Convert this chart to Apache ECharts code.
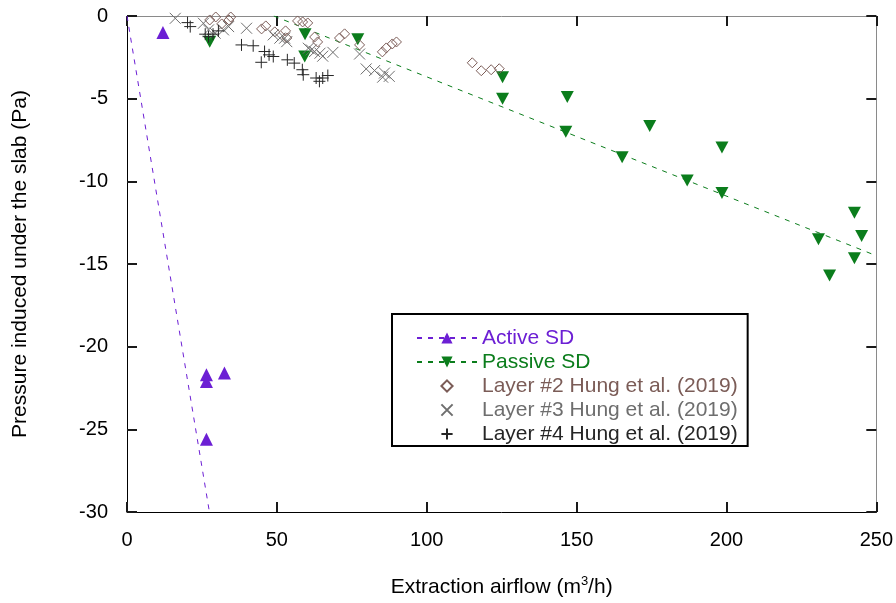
<!DOCTYPE html>
<html>
<head>
<meta charset="utf-8">
<script src="https://cdn.jsdelivr.net/npm/echarts@6/dist/echarts.min.js"></script>
<style>
  html, body { margin: 0; padding: 0; background: #fff; }
  #chart { width: 896px; height: 603px; }
</style>
</head>
<body>
<div id="chart"></div>
<script>
// x = extraction airflow (m3/h), y = pressure (Pa)
const xTicks = [0, 50, 100, 150, 200, 250];
const yTicks = [0, -5, -10, -15, -20, -25, -30];

const activeX = [12, 26.5, 26.5, 32.5, 26.5];
const activeY = [-1.0, -21.7, -22.1, -21.6, -25.6];
const activeFitX = [0, 27.5];
const activeFitY = [0, -30];

const passiveX = [27.6, 59.4, 59.3, 77.0, 125.3, 125.3, 146.9, 146.4, 165.2, 174.4, 198.5, 186.9, 198.5, 230.7, 242.7, 245.1, 242.7, 234.4];
const passiveY = [-1.55, -1.1, -2.45, -1.4, -3.7, -5.0, -4.9, -7.0, -8.55, -6.65, -7.95, -9.95, -10.7, -13.5, -11.9, -13.3, -14.65, -15.7];
const passiveFitX = [49, 250];
const passiveFitY = [0, -14.5];

const layer2X = [27.6, 29.6, 31.6, 34.0, 34.6, 44.9, 46.3, 49.3, 52.9, 53.3, 56.9, 58.6, 60.3, 62.6, 63.6, 70.9, 72.6, 77.6, 85.2, 86.5, 88.5, 89.9, 115.2, 118.2, 121.5, 124.2];
const layer2Y = [-0.24, -0.06, -0.48, -0.24, -0.06, -0.78, -0.6, -0.96, -0.9, -1.33, -0.3, -0.36, -0.42, -1.27, -1.57, -1.33, -1.08, -1.75, -2.17, -1.93, -1.69, -1.57, -2.83, -3.31, -3.25, -3.19];

const layer3X = [16.1, 25.5, 27.2, 29.4, 32.2, 33.9, 39.9, 48.8, 51.0, 52.6, 53.3, 60.5, 61.5, 62.6, 64.4, 65.3, 68.7, 77.6, 79.8, 82.6, 85.3, 85.9, 87.5];
const layer3Y = [-0.14, -0.44, -0.84, -1.04, -0.84, -0.64, -0.74, -1.14, -1.34, -1.34, -1.55, -1.95, -2.05, -2.15, -2.25, -2.43, -2.2, -2.3, -3.2, -3.3, -3.7, -3.45, -3.65];

const layer4X = [20.2, 21.1, 26.1, 27.2, 28.7, 30.5, 38.2, 42.1, 44.8, 45.9, 47.4, 48.8, 53.5, 55.8, 58.5, 58.8, 63.1, 64.2, 65.3, 67.0];
const layer4Y = [-0.4, -0.64, -1.1, -1.25, -1.1, -0.9, -1.75, -1.8, -2.8, -2.15, -2.35, -2.45, -2.65, -2.85, -3.25, -3.55, -3.75, -3.95, -3.75, -3.6];

const names = ['Active SD', 'Passive SD', 'Layer #2 Hung et al. (2019)', 'Layer #3 Hung et al. (2019)', 'Layer #4 Hung et al. (2019)'];
const colors = ['#6c1fd4', '#0b7d1c', '#7b5c57', '#6e6e6e', '#262626'];

function pairs(xs, ys) {
  return xs.map((x, i) => [x, ys[i]]);
}

const downTri = 'path://M0,0L12,0L6,10Z';
const diamond = 'path://M5,0L10,5L5,10L0,5Z';
const cross = 'path://M0,0L10,10M0,10L10,0';
const plus = 'path://M5,0L5,10M0,5L10,5';

const font = 'Liberation Sans, Arial, sans-serif';

const chart = echarts.init(document.getElementById('chart'));

// hollow markers drawn as an invisible-line series so the legend shows them small
function markerSeries(idx, sym, size, xs, ys) {
  return {
    name: names[idx],
    type: 'line',
    data: pairs(xs, ys),
    symbol: sym,
    symbolSize: size,
    lineStyle: { opacity: 0 },
    itemStyle: { color: 'rgba(0,0,0,0)', borderColor: colors[idx], borderWidth: 1 },
    emphasis: { disabled: true },
    z: 3
  };
}

const tickLine = { color: '#1a1a1a', width: 2 };

// bare axis used only for the inward ticks (mirrored frame)
function tickAxis(pos, min, max, step, lineColor) {
  return {
    type: 'value', min: min, max: max, interval: step, position: pos,
    axisLine: { show: true, onZero: false, lineStyle: { color: lineColor, width: 1 } },
    axisTick: { show: true, inside: true, length: 10, lineStyle: tickLine },
    axisLabel: { show: false },
    splitLine: { show: false }
  };
}

const option = {
  animation: false,
  backgroundColor: '#fff',
  grid: { left: 127, right: 18, top: 16, bottom: 89 },
  legend: {
    orient: 'vertical',
    left: 392, top: 314,
    padding: [13, 10, 1, 24],
    itemWidth: 60, itemHeight: 14, itemGap: 2,
    borderColor: '#000', borderWidth: 2,
    backgroundColor: '#fff',
    textStyle: { fontFamily: font, fontSize: 21, lineHeight: 22 },
    data: names.map((n, i) => ({ name: n, textStyle: { color: colors[i] } }))
  },
  xAxis: [
    {
      type: 'value', min: 0, max: 250, interval: 50,
      name: 'Extraction airflow (m{sup|3}/h)',
      nameLocation: 'middle', nameGap: 63,
      nameTextStyle: {
        fontFamily: font, fontSize: 21, color: '#000',
        rich: { sup: { fontFamily: font, fontSize: 13, verticalAlign: 'top', padding: [0, 0, 12, 0] } }
      },
      axisLine: { show: true, onZero: false, lineStyle: { color: '#000', width: 1 } },
      axisTick: { show: true, inside: true, length: 10, lineStyle: tickLine },
      axisLabel: { margin: 18, fontFamily: font, fontSize: 20, color: '#000' },
      splitLine: { show: false }
    },
    tickAxis('top', 0, 250, 50, '#8a8a8a')
  ],
  yAxis: [
    {
      type: 'value', min: -30, max: 0, interval: 5,
      name: 'Pressure induced under the slab (Pa)',
      nameLocation: 'middle', nameGap: 96,
      nameTextStyle: { fontFamily: font, fontSize: 21, color: '#000' },
      axisLine: { show: true, onZero: false, lineStyle: { color: '#000', width: 1 } },
      axisTick: { show: false },
      axisLabel: { margin: 19, fontFamily: font, fontSize: 20, color: '#000' },
      splitLine: { show: false }
    },
    tickAxis('right', -30, 0, 5, '#8a8a8a'),
    tickAxis('left', -30, 0, 5, '#000')
  ],
  series: [
    {
      name: names[0], type: 'line',
      data: pairs(activeFitX, activeFitY),
      symbol: 'triangle', showSymbol: false,
      lineStyle: { color: colors[0], width: 1, type: [5, 6] },
      itemStyle: { color: colors[0] },
      emphasis: { disabled: true }, z: 2
    },
    {
      name: names[1], type: 'line',
      data: pairs(passiveFitX, passiveFitY),
      symbol: downTri, showSymbol: false,
      lineStyle: { color: colors[1], width: 1, type: [5, 6] },
      itemStyle: { color: colors[1] },
      emphasis: { disabled: true }, z: 2
    },
    {
      name: names[0], type: 'scatter',
      data: pairs(activeX, activeY),
      symbol: 'triangle', symbolSize: 13,
      itemStyle: { color: colors[0], opacity: 1 }, z: 3
    },
    {
      name: names[1], type: 'scatter',
      data: pairs(passiveX, passiveY),
      symbol: downTri, symbolSize: [13, 12],
      itemStyle: { color: colors[1], opacity: 1 }, z: 3
    },
    markerSeries(2, diamond, 10, layer2X, layer2Y),
    markerSeries(3, cross, 11, layer3X, layer3Y),
    markerSeries(4, plus, 12, layer4X, layer4Y)
  ]
};

chart.setOption(option);
</script>
</body>
</html>
